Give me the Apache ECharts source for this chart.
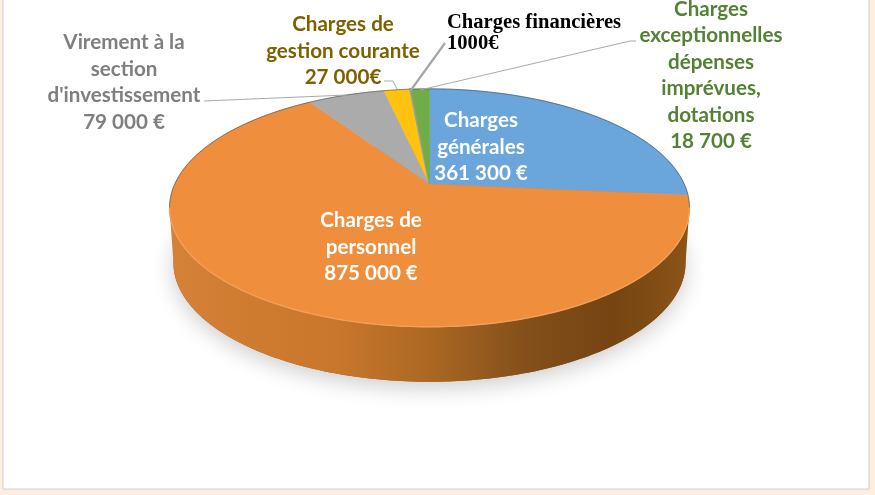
<!DOCTYPE html>
<html><head><meta charset="utf-8">
<style>html,body{margin:0;padding:0;background:#fdeee0}#c{width:875px;height:495px}</style>
<script src="https://cdn.jsdelivr.net/npm/echarts@6/dist/echarts.min.js"></script>
</head><body><div id="c"></div>
<script>
const categories = ["Charges générales","Charges de personnel","Virement à la section d'investissement","Charges de gestion courante","Charges financières","Charges exceptionnelles dépenses imprévues, dotations"];
const values = [361300, 875000, 79000, 27000, 1000, 18700];
const sliceColors = ["#6aa5db","#ef8e3c","#ababab","#ffc20f","#98a0a6","#70ad47"];
const labelTexts = ["Charges\ngénérales\n361 300 €","Charges de\npersonnel\n875 000 €","Virement à la\nsection\nd'investissement\n79 000 €","Charges de\ngestion courante\n27 000€","Charges financières\n1000€","Charges\nexceptionnelles\ndépenses\nimprévues,\ndotations\n18 700 €"];
const labelColors = ["#ffffff","#ffffff","#7f7f7f","#7f6000","#000000","#548235"];
const labelAnchors = [[481,147],[371,247],[124,82.5],[343,51],[447,33],[711,75.5]];
const leaderPaths = [null,null,[[204,101],[347,95]],[[384,81],[393,81],[397,89]],[[445,43],[411,90]],[[636,41],[630,41],[420,90]]];
const leaderWidths = [0,0,1,1,2.2,1];

const total = values.reduce((a,b)=>a+b,0);
const P = 0.2, CX = 429.5, CY = 184, SX = 254.7, SY = 114.2, DEPTH = 55;
const VIS0 = 101.5, VIS1 = 258.5;
function rim(deg, bottom){
  const t = deg*Math.PI/180, u = Math.sin(t), v = Math.cos(t), w = 1 + P*v;
  const k = bottom ? 0.985 : 1;
  return [CX + k*SX*u/w, CY - SY*v/w + (bottom ? DEPTH : 0)];
}
function arc(a0,a1,bottom){
  const pts=[]; const n=Math.max(1,Math.ceil(Math.abs(a1-a0)));
  for(let i=0;i<=n;i++) pts.push(rim(a0+(a1-a0)*i/n,bottom));
  return pts;
}
function angles(idx){
  let s=0; for(let i=0;i<idx;i++) s+=values[i];
  return [s/total*360,(s+values[idx])/total*360];
}
const sideGrad = new echarts.graphic.LinearGradient(0,0,1,0,[
  {offset:0,color:"#d58138"},{offset:.15,color:"#cf7b30"},{offset:.32,color:"#c9772c"},
  {offset:.5,color:"#ab6822"},{offset:.68,color:"#84501b"},{offset:.85,color:"#744412"},{offset:1,color:"#8c5418"}]);

const seriesData = values.map((v,i)=>({name:categories[i],value:[i,v]}));

const option = {
  animation:false,
  backgroundColor:"#fdeee0",
  graphic:{elements:[
    {type:"rect",silent:true,z:-10,shape:{x:3,y:-2,width:866,height:491},style:{fill:"#ffffff",stroke:"#cfcfcf",lineWidth:1}},
    ...labelTexts.map((t,i)=>({type:"text",z:50,silent:true,x:labelAnchors[i][0],y:labelAnchors[i][1],
      style:{text:t,fill:labelColors[i],align:i===4?"left":"center",verticalAlign:"middle",
        fontFamily:i===4?"Liberation Serif":"Lato",fontWeight:"bold",fontSize:i===4?20.6:20.6,lineHeight:i===4?21:26.5}}))
  ]},
  series:[
    {type:"custom",coordinateSystem:"none",silent:true,z:1,data:seriesData,
      renderItem(p,api){
        const i=api.value(0), [a0,a1]=angles(i), from=Math.max(a0,VIS0), to=Math.min(a1,VIS1);
        if(from>=to) return {type:"group",children:[]};
        const pts=arc(from,to,false).concat(arc(to,from,true));
        return {type:"group",children:[
          {type:"polygon",shape:{points:arc(0,360,true)},style:{fill:"#9a5c20",shadowBlur:22,shadowColor:"rgba(0,0,0,.2)",shadowOffsetY:6}},
          {type:"polygon",shape:{points:pts},style:{fill:sideGrad}}
        ]};
      }},
    {type:"custom",coordinateSystem:"none",silent:true,z:2,data:seriesData,
      renderItem(p,api){
        const i=api.value(0), [a0,a1]=angles(i);
        const kids=[{type:"polygon",shape:{points:[[CX,CY]].concat(arc(a0,a1,false))},
          style:{fill:sliceColors[i],stroke:i===4?"#98a0a6":sliceColors[i],lineWidth:i===4?2.2:0.6}}];
        const back=[[a0,Math.min(a1,VIS0)],[Math.max(a0,VIS1),a1]];
        back.forEach(([f,t])=>{ if(f<t) kids.push({type:"polyline",shape:{points:arc(f,t,false)},style:{stroke:"rgba(50,60,75,.6)",lineWidth:0.9,fill:null}}); });
        const f=Math.max(a0,VIS0), t=Math.min(a1,VIS1);
        if(f<t) kids.push({type:"polyline",shape:{points:arc(f,t,false)},style:{stroke:"#f4a05a",lineWidth:1.4,fill:null}});
        return {type:"group",children:kids};
      }},
    {type:"custom",coordinateSystem:"none",silent:true,z:3,data:seriesData,
      renderItem(p,api){
        const i=api.value(0);
        if(!leaderPaths[i]) return {type:"group",children:[]};
        return {type:"polyline",shape:{points:leaderPaths[i]},style:{stroke:i===4?"#a6a6a6":"#a9a9a9",lineWidth:leaderWidths[i],fill:null}};
      }}
  ]
};
echarts.init(document.getElementById("c"),null,{renderer:"canvas"}).setOption(option);
</script></body></html>
